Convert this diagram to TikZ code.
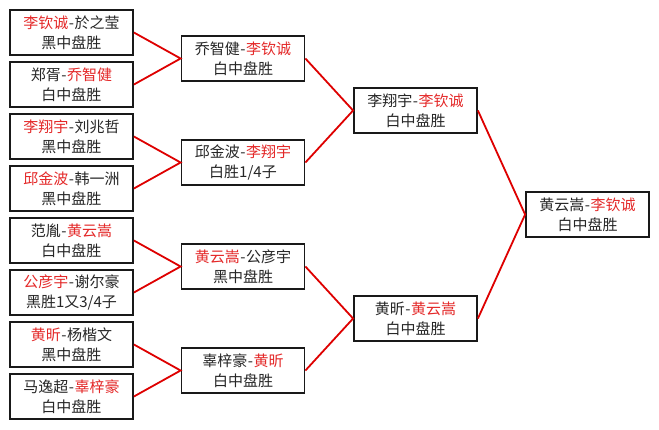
\documentclass[tikz,border=0pt]{standalone}
\usepackage{fontspec}
\newfontfamily\cjk{Noto Sans CJK SC}
\definecolor{tred}{RGB}{228,40,40}
\definecolor{lred}{RGB}{222,0,0}
\definecolor{bframe}{RGB}{25,25,25}
\newcommand{\R}[1]{\textcolor{tred}{#1}}
\newcommand{\hy}{\kern0.5pt-\kern0.5pt}
\tikzset{
  match/.style={draw=bframe, line width=1.8pt, minimum width=123pt, minimum height=45pt,
    inner sep=0pt, align=center, font=\cjk\fontsize{15pt}{20pt}\selectfont, text=black!85},
  link/.style={draw=lred, line width=1.8pt}
}
\begin{document}
\begin{tikzpicture}[x=1pt,y=-1pt]
\useasboundingbox[fill=white] (0,0) rectangle (659,429);
% round 1
\node[match] (a1) at (71.5,32.5) {\R{李钦诚}\hy 於之莹\\黑中盘胜};
\node[match] (a2) at (71.5,84.5) {郑胥\hy\R{乔智健}\\白中盘胜};
\node[match] (a3) at (71.5,136.5) {\R{李翔宇}\hy 刘兆哲\\黑中盘胜};
\node[match] (a4) at (71.5,188.5) {\R{邱金波}\hy 韩一洲\\黑中盘胜};
\node[match] (a5) at (71.5,240.5) {范胤\hy\R{黄云嵩}\\白中盘胜};
\node[match] (a6) at (71.5,292.5) {\R{公彦宇}\hy 谢尔豪\\黑胜1又3/4子};
\node[match] (a7) at (71.5,344.5) {\R{黄昕}\hy 杨楷文\\黑中盘胜};
\node[match] (a8) at (71.5,396.5) {马逸超\hy\R{辜梓豪}\\白中盘胜};
% round 2
\node[match] (b1) at (243,58.5) {乔智健\hy\R{李钦诚}\\白中盘胜};
\node[match] (b2) at (243,162.5) {邱金波\hy\R{李翔宇}\\白胜1/4子};
\node[match] (b3) at (243,266.5) {\R{黄云嵩}\hy 公彦宇\\黑中盘胜};
\node[match] (b4) at (243,370.5) {辜梓豪\hy\R{黄昕}\\白中盘胜};
% round 3
\node[match] (c1) at (415.5,110.5) {李翔宇\hy\R{李钦诚}\\白中盘胜};
\node[match] (c2) at (415.5,318.5) {黄昕\hy\R{黄云嵩}\\白中盘胜};
% final
\node[match] (d1) at (587.5,214.5) {黄云嵩\hy\R{李钦诚}\\白中盘胜};
% links
\draw[link] (a1.east) -- (b1.west) -- (a2.east);
\draw[link] (a3.east) -- (b2.west) -- (a4.east);
\draw[link] (a5.east) -- (b3.west) -- (a6.east);
\draw[link] (a7.east) -- (b4.west) -- (a8.east);
\draw[link] (b1.east) -- (c1.west) -- (b2.east);
\draw[link] (b3.east) -- (c2.west) -- (b4.east);
\draw[link] (c1.east) -- (d1.west) -- (c2.east);
\end{tikzpicture}
\end{document}
